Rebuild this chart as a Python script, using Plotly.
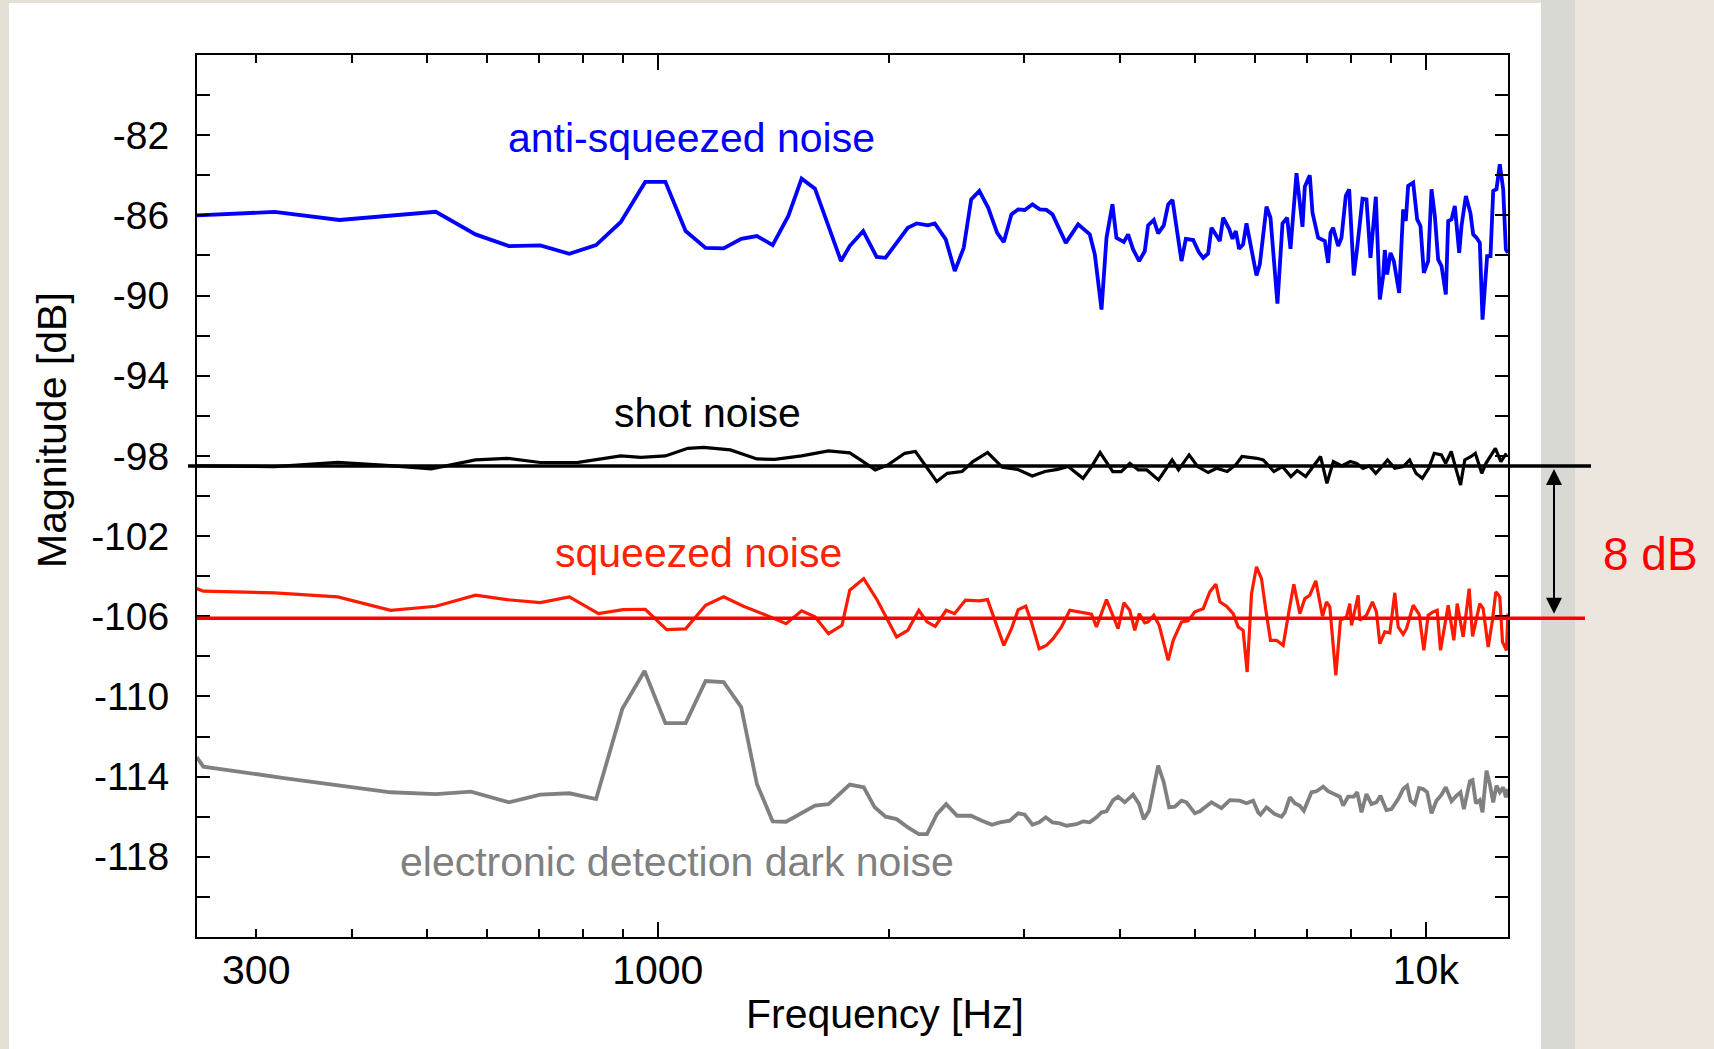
import plotly.graph_objects as go

# ---------------- data (frequency in Hz, magnitude in dB) ----------------
anti_f = [251, 317, 385, 514, 579, 640, 703, 767, 831, 895,
          963, 1023, 1087, 1154, 1218, 1284, 1346, 1411, 1479, 1539,
          1602, 1732, 1778, 1851, 1927, 1979, 2116, 2174, 2248, 2294,
          2371, 2436, 2502, 2559, 2622, 2693, 2766, 2822, 2887, 2946,
          3005, 3075, 3143, 3206, 3265, 3331, 3398, 3526, 3651, 3707,
          3782, 3839, 3908, 3955, 4044, 4096, 4158, 4234, 4306, 4349,
          4424, 4482, 4558, 4619, 4679, 4807, 4870, 4978, 5063, 5130,
          5207, 5259, 5339, 5393, 5446, 5545, 5601, 5657, 5713, 5782,
          5841, 6019, 6079, 6202, 6277, 6409, 6507, 6598, 6665, 6786,
          6909, 6957, 7062, 7119, 7241, 7387, 7461, 7515, 7573, 7688,
          7766, 7867, 7947, 8058, 8140, 8271, 8370, 8471, 8608, 8712,
          8799, 8843, 8905, 8995, 9085, 9232, 9343, 9417, 9484, 9628,
          9744, 9841, 9941, 10070, 10172, 10274, 10376, 10482, 10618, 10694,
          10800, 10908, 11052, 11129, 11276, 11433, 11525, 11643, 11757, 11853,
          12018, 12140, 12239, 12360, 12483, 12611, 12712, 12790]
anti_db = [-86.0, -85.83, -86.23, -85.82, -86.95, -87.53, -87.5, -87.92, -87.48, -86.33,
           -84.33, -84.33, -86.78, -87.62, -87.65, -87.17, -87.03, -87.48, -86.03, -84.17,
           -84.67, -88.28, -87.53, -86.78, -88.07, -88.12, -86.62, -86.4, -86.5, -86.4,
           -87.2, -88.78, -87.62, -85.2, -84.78, -85.62, -86.87, -87.33, -85.95, -85.7,
           -85.73, -85.45, -85.7, -85.73, -85.95, -86.7, -87.37, -86.45, -86.95, -87.95,
           -90.7, -87.12, -85.45, -87.12, -87.33, -86.95, -87.7, -88.28, -87.78, -86.5,
           -86.23, -86.9, -86.5, -85.45, -85.23, -88.28, -87.17, -87.23, -87.83, -88.12,
           -87.9, -86.62, -87.0, -87.28, -86.12, -86.67, -87.17, -86.78, -87.67, -87.45,
           -86.4, -89.0, -88.45, -85.57, -86.12, -90.4, -86.4, -86.12, -87.67, -83.9,
           -86.57, -84.57, -84.0, -85.87, -87.12, -87.28, -88.37, -86.87, -86.62, -87.53,
           -87.12, -85.03, -84.7, -89.0, -87.62, -85.17, -85.2, -88.12, -85.07, -90.2,
           -89.03, -87.73, -88.95, -87.87, -88.28, -89.87, -85.7, -86.28, -84.53, -84.37,
           -86.2, -86.53, -88.87, -88.28, -84.7, -86.03, -88.2, -88.53, -89.95, -86.28,
           -86.2, -85.53, -87.87, -86.53, -85.03, -85.9, -86.95, -87.12, -87.37, -91.2,
           -88.03, -88.03, -84.78, -84.7, -83.45, -84.7, -87.7, -87.87]

shot_f = [251, 317, 383, 443, 507, 579, 636, 703, 788, 895,
          951, 1023, 1094, 1147, 1243, 1346, 1420, 1539, 1668, 1778,
          1836, 1919, 1994, 2097, 2165, 2236, 2308, 2382, 2490, 2572,
          2688, 2810, 2939, 3073, 3192, 3316, 3422, 3578, 3671, 3766,
          3912, 4013, 4117, 4223, 4332, 4487, 4674, 4764, 4918, 5045,
          5208, 5341, 5513, 5655, 5764, 6026, 6142, 6341, 6505, 6673,
          6800, 6976, 7157, 7294, 7434, 7579, 7772, 7973, 8127, 8282,
          8442, 8607, 8770, 8915, 9112, 9346, 9526, 9710, 9895, 10088,
          10256, 10478, 10612, 10792, 10955, 11097, 11238, 11455, 11601, 11825,
          11976, 12132, 12318, 12524, 12730]
shot_db = [-98.5, -98.53, -98.32, -98.47, -98.65, -98.2, -98.12, -98.33, -98.32, -98.0,
           -98.07, -98.0, -97.62, -97.57, -97.7, -98.15, -98.17, -98.0, -97.75, -97.85,
           -98.2, -98.7, -98.45, -97.87, -97.78, -98.53, -99.28, -98.87, -98.78, -98.28,
           -97.83, -98.57, -98.67, -99.0, -98.78, -98.67, -98.53, -99.12, -98.53, -97.83,
           -98.78, -98.78, -98.37, -98.7, -98.7, -99.2, -98.2, -98.7, -97.95, -98.53,
           -98.83, -98.62, -98.78, -98.45, -98.03, -98.12, -98.2, -98.78, -98.53, -99.03,
           -98.73, -99.03, -98.45, -98.03, -99.37, -98.28, -98.5, -98.28, -98.37, -98.62,
           -98.5, -98.87, -98.53, -98.2, -98.62, -98.53, -98.2, -98.87, -99.12, -98.62,
           -97.87, -97.95, -98.37, -97.78, -98.7, -99.45, -98.2, -98.03, -97.87, -98.87,
           -98.37, -98.03, -97.62, -98.28, -97.87]

sq_f = [251, 256, 317, 383, 449, 514, 579, 636, 703, 767,
        837, 901, 963, 1027, 1087, 1154, 1218, 1293, 1401, 1469,
        1539, 1602, 1668, 1737, 1778, 1854, 1931, 2046, 2116, 2187,
        2241, 2297, 2374, 2434, 2515, 2622, 2687,
        2822, 2887, 2946, 3014, 3065, 3137, 3206, 3271, 3354, 3439,
        3526, 3615, 3670, 3725, 3839, 3975, 4044, 4116, 4179, 4234,
        4306, 4349, 4424, 4496, 4619, 4689, 4807, 4904, 5003, 5130,
        5233, 5328, 5393, 5501, 5613, 5697, 5782, 5853, 5930, 6019,
        6110, 6190, 6277, 6391, 6520, 6638, 6732, 6854, 6957, 7062,
        7190, 7336, 7424, 7499, 7635, 7742, 7883, 7962, 8002, 8164,
        8204, 8370, 8521, 8624, 8712, 8843, 8977, 9112, 9204, 9343,
        9437, 9628, 9802, 9941, 10070, 10222, 10346, 10450, 10587, 10694,
        10877, 10986, 11185, 11388, 11503, 11757, 11875, 12055, 12212, 12335,
        12483, 12584, 12736, 12790]
sq_db = [-104.62, -104.75, -104.83, -105.03, -105.7, -105.5, -104.95, -105.17, -105.32, -105.03,
         -105.87, -105.67, -105.65, -106.67, -106.63, -105.45, -105.03, -105.5, -106.03, -106.37,
         -105.73, -106.03, -106.87, -106.45, -104.7, -104.12, -105.2, -107.03, -106.7, -105.7,
         -106.28, -106.5, -105.7, -105.87, -105.2, -105.23, -105.17,
         -107.45, -106.62, -105.67, -105.5, -106.28, -107.62, -107.45, -107.12, -106.53, -105.7,
         -105.78, -105.87, -105.9, -106.53, -105.17, -106.62, -105.33, -105.7, -106.7, -105.87,
         -106.33, -106.28, -105.95, -106.45, -108.2, -107.2, -106.28, -106.23, -105.78, -105.62,
         -104.78, -104.4, -105.28, -105.5, -105.87, -106.53, -106.7, -108.78, -104.87, -103.53,
         -104.12, -105.7, -107.2, -107.2, -107.45, -105.7, -104.4, -105.87, -105.12, -104.95,
         -104.23, -106.0, -105.28, -105.53, -108.95, -106.2, -106.03, -105.37, -106.45, -104.95,
         -106.2, -105.95, -105.28, -105.78, -107.37, -106.78, -106.83, -104.83, -106.53, -106.9,
         -106.62, -105.45, -105.9, -107.7, -105.95, -105.78, -105.7, -107.7, -106.28, -105.45,
         -107.2, -105.37, -107.03, -104.62, -107.0, -105.37, -105.62, -107.53, -106.2, -104.78,
         -105.03, -107.28, -107.7, -105.87]

dark_f = [251, 256, 326, 449, 514, 571, 640, 703, 767, 831,
          899, 961, 1023, 1087, 1154, 1218, 1284, 1346, 1411, 1469,
          1602, 1668, 1778, 1854, 1916, 1980, 2046, 2116, 2187, 2241,
          2309, 2374, 2453, 2557, 2643, 2723,
          2788, 2873, 2946, 3005, 3075, 3137, 3200, 3265, 3338, 3405,
          3508, 3579, 3651, 3725, 3782, 3839, 3916, 3975, 4055, 4158,
          4234, 4293, 4362, 4482, 4558, 4632, 4712, 4807, 4880, 5003,
          5079, 5259, 5419, 5557, 5725, 5841, 5959, 6049, 6092, 6202,
          6359, 6488, 6553, 6652, 6752, 6854, 6937, 7098, 7205, 7350,
          7461, 7612, 7727, 7805, 7922, 8058, 8140, 8245, 8370, 8496,
          8624, 8728, 8887, 9022, 9204, 9343, 9455, 9551, 9675, 9802,
          9921, 10040, 10172, 10325, 10482, 10618, 10800, 10964, 11096, 11208,
          11411, 11503, 11618, 11757, 11853, 11995, 12115, 12239, 12360, 12483,
          12611, 12712, 12790]
dark_db = [-113.03, -113.5, -114.07, -114.78, -114.87, -114.75, -115.28, -114.9, -114.83, -115.12,
           -110.62, -108.73, -111.33, -111.33, -109.23, -109.28, -110.53, -114.37, -116.23, -116.25,
           -115.45, -115.37, -114.4, -114.53, -115.53, -116.0, -116.12, -116.53, -116.87, -116.87,
           -115.87, -115.37, -115.95, -115.95, -116.2, -116.4,
           -116.28, -116.2, -115.83, -115.9, -116.4, -116.28, -116.03, -116.28, -116.33, -116.45,
           -116.37, -116.23, -116.28, -116.03, -115.78, -115.73, -115.17, -115.0, -115.28, -114.9,
           -115.37, -116.12, -115.7, -113.45, -114.28, -115.53, -115.5, -115.2, -115.28, -115.83,
           -115.73, -115.28, -115.57, -115.17, -115.2, -115.33, -115.2, -115.78, -115.9, -115.53,
           -115.87, -116.0, -115.78, -115.03, -115.33, -115.45, -115.7, -114.78, -114.73, -114.5,
           -114.73, -114.87, -115.0, -115.45, -115.0, -115.0, -114.78, -115.78, -114.87, -115.37,
           -115.28, -114.95, -115.67, -115.62, -115.12, -114.62, -114.45, -115.2, -115.37, -114.57,
           -114.62, -114.78, -115.83, -115.2, -114.9, -114.53, -115.23, -114.95, -114.78, -115.62,
           -114.23, -114.17, -115.33, -115.17, -115.78, -113.7, -114.37, -115.28, -114.45, -114.78,
           -114.53, -115.03, -114.62]

shot_level = -98.5       # shot-noise reference level
squeezed_level = -106.1  # squeezed-noise reference level

x_tick_vals = [300, 1000, 10000]
x_tick_text = ["300", "1000", "10k"]
x_long_ticks = [1000, 10000]
x_minor_ticks = [300, 400, 500, 600, 700, 800, 900,
                 2000, 3000, 4000, 5000, 6000, 7000, 8000, 9000]
y_tick_vals = [-82, -86, -90, -94, -98, -102, -106, -110, -114, -118]
y_tick_text = ["-82", "-86", "-90", "-94", "-98", "-102", "-106", "-110", "-114", "-118"]
y_minor_ticks = [-80, -84, -88, -92, -96, -100, -104, -108, -112, -116, -120]

for a, b in [(anti_f, anti_db), (shot_f, shot_db), (sq_f, sq_db), (dark_f, dark_db)]:
    assert len(a) == len(b), (len(a), len(b))

FONT = "Liberation Sans, Arial, Helvetica, sans-serif"

fig = go.Figure()
series = [
    (anti_f, anti_db, "#0000ff", 3.8),
    (shot_f, shot_db, "#000000", 3.2),
    (sq_f, sq_db, "#ff1a00", 3.2),
    (dark_f, dark_db, "#808080", 3.8),
]
for f, v, c, w in series:
    fig.add_trace(go.Scatter(x=f, y=v, mode="lines", line=dict(color=c, width=w),
                             showlegend=False, hoverinfo="skip", cliponaxis=True))

# invisible trace so that the long-tick overlay axis exists
fig.add_trace(go.Scatter(x=x_long_ticks, y=[shot_level, shot_level], xaxis="x2",
                         mode="lines", line=dict(width=0), opacity=0,
                         showlegend=False, hoverinfo="skip"))

# plot area in pixels: left 197, right 1508, top 55, bottom 937
L, R, T, B = 197, 1508, 55, 937
W, H = 1714, 1049
pw, ph = R - L, B - T


def px(xpix):
    return (xpix - L) / pw


def py(ypix):
    return (B - ypix) / ph


xr = [2.4, 4.107]
fig.update_layout(
    width=W, height=H,
    margin=dict(l=L, r=W - R, t=T, b=H - B, pad=0),
    paper_bgcolor="#e4e0d6",
    plot_bgcolor="white",
    font=dict(family=FONT, size=38, color="black"),
    showlegend=False,
    xaxis=dict(type="log", range=xr, tickmode="array", tickvals=x_tick_vals, ticktext=x_tick_text,
               ticks="inside", ticklen=8, tickwidth=1.6, tickcolor="black",
               showline=True, linewidth=2, linecolor="black", mirror="allticks",
               showgrid=False, zeroline=False, tickfont=dict(size=41),
               ticklabelstandoff=-4,
               minor=dict(tickmode="array", tickvals=x_minor_ticks, ticks="inside", ticklen=8,
                          tickwidth=1.6, tickcolor="black", showgrid=False)),
    xaxis2=dict(type="log", range=xr, overlaying="x", anchor="y", side="bottom",
                tickmode="array", tickvals=x_long_ticks, ticks="inside", ticklen=15,
                tickwidth=1.6, tickcolor="black", showticklabels=False, showline=False,
                mirror="allticks", showgrid=False, zeroline=False),
    yaxis=dict(range=[-122, -78], tickmode="array", tickvals=y_tick_vals, ticktext=y_tick_text,
               ticks="inside", ticklen=13, tickwidth=1.6, tickcolor="black",
               showline=True, linewidth=2, linecolor="black", mirror="allticks",
               showgrid=False, zeroline=False, tickfont=dict(size=39),
               ticklabelstandoff=18,
               minor=dict(tickmode="array", tickvals=y_minor_ticks, ticks="inside", ticklen=13,
                          tickwidth=1.6, tickcolor="black", showgrid=False)),
)

shapes = [
    # white slide panel behind the chart
    dict(type="rect", xref="paper", yref="paper", x0=px(9), x1=px(1541), y0=py(1060), y1=py(3),
         fillcolor="white", line=dict(width=0), layer="below"),
    # grey / cream bands to the right of the panel
    dict(type="rect", xref="paper", yref="paper", x0=px(1541), x1=px(1575), y0=py(1060), y1=py(-10),
         fillcolor="#d9d9d4", line=dict(width=0), layer="below"),
    dict(type="rect", xref="paper", yref="paper", x0=px(1575), x1=px(1720), y0=py(1060), y1=py(-10),
         fillcolor="#ede6df", line=dict(width=0), layer="below"),
    # reference levels
    dict(type="line", xref="paper", yref="y", x0=px(188), x1=px(1591), y0=shot_level, y1=shot_level,
         line=dict(color="black", width=3.5)),
    dict(type="line", xref="paper", yref="y", x0=px(197), x1=px(1585), y0=squeezed_level,
         y1=squeezed_level, line=dict(color="#ff0000", width=3.5)),
]
fig.update_layout(shapes=shapes)


def label(text, xpix, ypix, color, size, angle=0):
    return dict(text=text, xref="paper", yref="paper", x=px(xpix), y=py(ypix),
                xanchor="center", yanchor="middle", showarrow=False, textangle=angle,
                font=dict(color=color, size=size, family=FONT))


annotations = [
    label("anti-squeezed noise", 691, 138, "#0000ff", 41),
    label("shot noise", 707, 413, "black", 41),
    label("squeezed noise", 698, 553, "#ff2200", 41),
    label("electronic detection dark noise", 677, 862, "#808080", 41),
    label("Frequency [Hz]", 885, 1014, "black", 41),
    label("Magnitude [dB]", 52, 430, "black", 41, angle=-90),
    label("8 dB", 1650, 554, "#ff0000", 46),
    # double-headed arrow between reference levels
    dict(text="", xref="paper", yref="y", x=px(1554), y=shot_level - 0.15,
         axref="pixel", ax=0, ayref="y", ay=squeezed_level + 0.15,
         showarrow=True, arrowhead=2, startarrowhead=2, arrowside="end+start",
         arrowwidth=2, arrowsize=1.6, startarrowsize=1.6, arrowcolor="black", standoff=0,
         startstandoff=0),
]
fig.update_layout(annotations=annotations)

fig.write_html("out.html", config={"displayModeBar": False},
               post_script="document.body.style.margin='0';document.body.style.overflow='hidden';")
